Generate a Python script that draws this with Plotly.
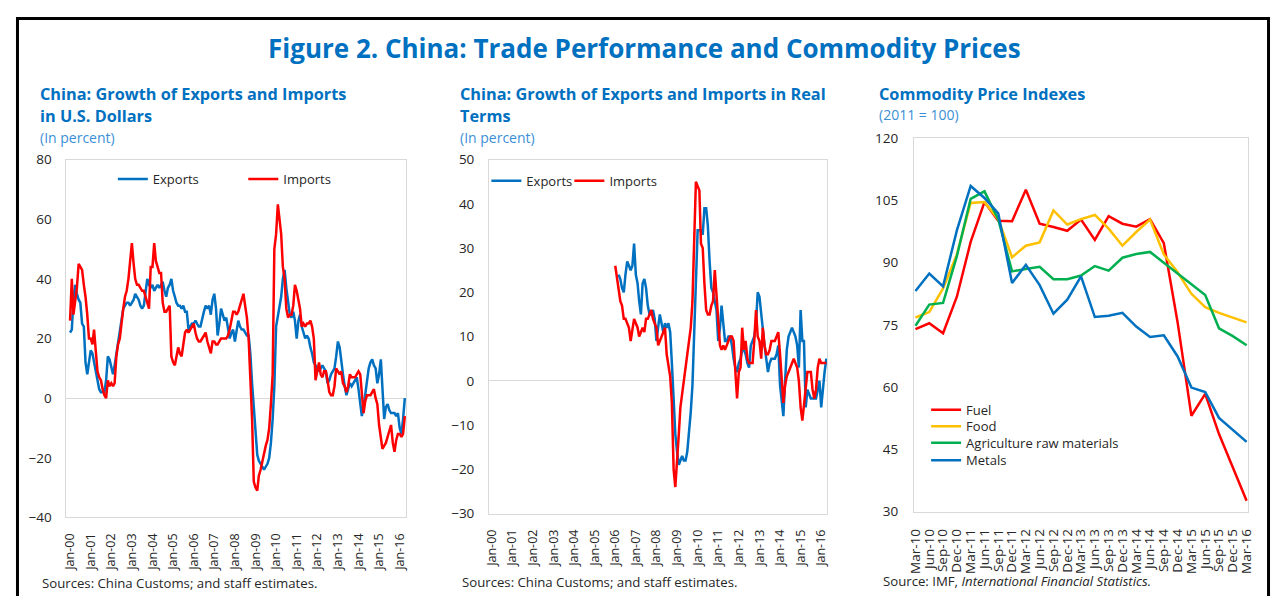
import pandas as pd
import plotly.graph_objects as go

# The page is shown with an 8 px body margin, so the figure is sized to fill the rest.
OFF = 8
W, H = 1285 - 2 * OFF, 613 - 2 * OFF

# ---------------- data ----------------
months = pd.date_range("2000-01-01", periods=196, freq="MS")

usd_exports = [
    22, 23, 33, 38, 35, 33, 32, 25, 24, 12, 8, 12,
    16, 15, 12, 9, 6, 3, 2, 2, 2, 6, 14, 13,
    10, 8, 11, 15, 18, 22, 26, 30, 31, 32, 32, 31,
    32, 33, 35, 34, 33, 31, 30, 31, 35, 40, 38, 37,
    38, 36, 37, 38, 37, 38, 39, 36, 34, 37, 38, 40,
    36, 34, 32, 31, 31, 30, 31, 29, 29, 23, 24, 25,
    25, 26, 25, 24, 24, 27, 29, 31, 30, 31, 28, 33,
    35, 30, 21, 25, 30, 28, 26, 27, 23, 20, 22, 23,
    19, 22, 26, 24, 23, 23, 22, 21, 21, 15, 5, -4,
    -12, -19, -21, -22, -23, -24, -23, -22, -20, -15, -7, 4,
    24, 28, 30, 34, 40, 43, 37, 33, 28, 27, 29, 26,
    20, 26, 28, 24, 22, 20, 21, 20, 17, 15, 12, 11,
    10, 9, 10, 11, 10, 9, 5, 6, 8, 9, 10, 14,
    19, 17, 12, 8, 4, 1, 3, 5, 4, 5, 6, 7,
    3, -2, -6, -3, 1, 6, 10, 12, 13, 11, 10, 5,
    8, 13, 4, -7, -3, -2, -4, -5, -5, -5, -6, -5,
    -10, -12, -7, 0,
]
usd_imports = [
    26, 40, 28, 32, 37, 45, 44, 43, 38, 34, 28, 20,
    20, 18, 23, 14, 9, 7, 6, 3, 1, 0, 6, 4,
    5, 4, 5, 14, 18, 20, 26, 30, 34, 36, 40, 47,
    52, 45, 40, 38, 38, 37, 36, 36, 34, 32, 30, 44,
    44, 52, 46, 44, 42, 42, 32, 29, 29, 30, 31, 14,
    12, 11, 14, 17, 15, 14, 18, 22, 23, 22, 23, 24,
    25, 22, 20, 19, 19, 20, 21, 22, 19, 17, 15, 19,
    19, 18, 18, 19, 20, 20, 20, 20, 21, 23, 26, 29,
    29, 28, 29, 31, 33, 35, 31, 27, 20, 8, -7, -28,
    -30, -31, -26, -24, -21, -19, -16, -14, -10, -2, 8, 50,
    55, 65, 60, 55, 44, 40, 30, 27, 28, 28, 31, 38,
    36, 33, 30, 24, 25, 24, 25, 25, 26, 24, 20, 6,
    9, 12, 8, 7, 9, 9, 6, 2, 1, 1, 4, 10,
    9, 8, 9, 5, 4, 2, 4, 8, 7, 7, 7, 8,
    9, 8, 2, -5, -1, 1, 1, 1, 2, 3, 0, -2,
    -9, -13, -17, -16, -15, -13, -11, -9, -15, -18, -14, -12,
    -12, -13, -12, -6,
]

real_exports_start = 74   # month index of first real-exports observation (Mar-06)
real_exports = [
    24, 23, 21, 20, 24, 27, 26, 25, 26, 31, 24, 22, 18, 15,
    22, 23, 21, 17, 15, 15, 16, 14, 9, 12, 15, 13, 11,
    13, 12, 13, 11, 4, -5, -12, -16, -19, -18, -17, -18, -18,
    -16, -12, -7, -1, 10, 22, 34, 34, 34, 33, 39, 39,
    35, 27, 21, 20, 18, 16, 9, 12, 17, 12, 9, 9,
    10, 10, 8, 5, 3, 2, 4, 5, 7, 7, 6, 4,
    3, 8, 9, 10, 13, 20, 19, 15, 11, 8, 5, 2,
    4, 5, 5, 5, 6, 8, -1, -5, -8, 0, 7, 10,
    11, 12, 11, 10, 8, 3, 16, 9, 9, -6, -2, -3,
    -4, -4, -4, -4, -2, 0, -6, -1, 2, 5,
]
real_imports_start = 72   # Jan-06
real_imports = [
    26, 23, 20, 18, 17, 14, 14, 13, 12, 9, 12, 14,
    13, 12, 10, 11, 12, 11, 14, 14, 15, 16, 14, 13,
    12, 8, 9, 10, 11, 12, 6, 3, 1, -5, -20, -24,
    -19, -12, -6, -3, 0, 2, 5, 8, 12, 18, 33, 45,
    44, 43, 31, 30, 22, 16, 15, 15, 17, 18, 25, 20,
    14, 8, 7, 8, 7, 8, 9, 10, 10, 9, 2, -4,
    2, 3, 12, 7, 9, 5, 4, 4, 4, 9, 16, 10,
    9, 5, 12, 8, 6, 6, 7, 9, 9, 9, 10, 11,
    6, 0, -5, -1, 1, 2, 3, 4, 5, 4, 3, 0,
    -6, -9, -5, -2, 2, 2, 2, -2, -4, -2, 3, 5,
    4, 4, 4, 4,
]

quarters = ["Mar-10", "Jun-10", "Sep-10", "Dec-10", "Mar-11", "Jun-11", "Sep-11", "Dec-11",
            "Mar-12", "Jun-12", "Sep-12", "Dec-12", "Mar-13", "Jun-13", "Sep-13", "Dec-13",
            "Mar-14", "Jun-14", "Sep-14", "Dec-14", "Mar-15", "Jun-15", "Sep-15", "Dec-15",
            "Mar-16"]
fuel = [74.0, 75.4, 73.0, 81.8, 95.0, 104.6, 100.1, 100.0, 107.6, 99.4, 98.6, 97.7, 100.4,
        95.5, 101.2, 99.4, 98.7, 100.5, 94.7, 75.6, 53.1, 58.4, 48.7, 40.5, 32.6]
food = [76.8, 78.1, 83.8, 92.0, 104.4, 104.6, 100.5, 91.3, 94.1, 94.9, 102.6, 99.2, 100.5,
        101.5, 98.2, 94.1, 97.4, 100.4, 92.0, 87.7, 82.5, 79.3, 77.9, 76.8, 75.6]
agri = [74.8, 79.9, 80.3, 91.6, 105.4, 107.2, 100.4, 87.9, 88.5, 89.0, 86.0, 86.0, 86.9,
        89.2, 88.1, 91.2, 92.1, 92.6, 90.0, 87.4, 84.6, 82.2, 74.2, 72.3, 70.1]
metals = [83.2, 87.4, 84.3, 97.8, 108.5, 105.6, 101.9, 85.1, 89.5, 84.6, 77.7, 81.1, 86.7,
          76.9, 77.2, 77.9, 74.6, 72.1, 72.5, 67.4, 59.9, 58.8, 52.6, 49.6, 46.8]

# ---------------- styles ----------------
BLUE = "#0070C0"
RED = "#FF0000"
YELLOW = "#FFC000"
GREEN = "#00B050"
TITLE_BLUE = "#0070C0"
SUB_BLUE = "#3A8FD6"
TXT = "#262626"
FONT = "Open Sans"
LW = 2.5


def px(x):
    """page pixel x -> paper fraction"""
    return (x - OFF) / W


def py(y):
    """page pixel y (from top) -> paper fraction"""
    return 1 - (y - OFF) / H


fig = go.Figure()

# panel 1
fig.add_trace(go.Scatter(x=months, y=usd_exports, name="Exports", mode="lines",
                         line=dict(color=BLUE, width=LW), xaxis="x", yaxis="y", legend="legend"))
fig.add_trace(go.Scatter(x=months, y=usd_imports, name="Imports", mode="lines",
                         line=dict(color=RED, width=LW), xaxis="x", yaxis="y", legend="legend2"))
# panel 2
fig.add_trace(go.Scatter(x=months[real_exports_start:real_exports_start + len(real_exports)],
                         y=real_exports, name="Exports", mode="lines",
                         line=dict(color=BLUE, width=LW), xaxis="x2", yaxis="y2", legend="legend3"))
fig.add_trace(go.Scatter(x=months[real_imports_start:real_imports_start + len(real_imports)],
                         y=real_imports, name="Imports", mode="lines",
                         line=dict(color=RED, width=LW), xaxis="x2", yaxis="y2", legend="legend4"))
# panel 3
for i, (name, vals, col) in enumerate([("Fuel", fuel, RED), ("Food", food, YELLOW),
                                       ("Agriculture raw materials", agri, GREEN),
                                       ("Metals", metals, BLUE)]):
    fig.add_trace(go.Scatter(x=quarters, y=vals, name=name, mode="lines",
                             line=dict(color=col, width=LW), xaxis="x3", yaxis="y3",
                             legend="legend%d" % (5 + i)))

GRID = "#D9D9D9"
common_y = dict(showgrid=False, zeroline=True, zerolinecolor=GRID, zerolinewidth=1,
                showline=True, linecolor=GRID, linewidth=1, mirror=True,
                ticks="outside", ticklen=11, tickcolor="rgba(0,0,0,0)",
                tickfont=dict(family=FONT, size=13.5, color=TXT))
common_x = dict(showgrid=False, zeroline=False, showline=True, linecolor=GRID, linewidth=1,
                mirror=True, ticks="outside", ticklen=10, tickcolor="rgba(0,0,0,0)",
                tickangle=-90, tickfont=dict(family=FONT, size=12.5, color=TXT))


def leg(x, y):
    # x: left edge of legend entry text (41 px after legend box left); y: text centre
    return dict(orientation="v", x=px(x - 41), y=py(y), xanchor="left", yanchor="middle",
                bgcolor="rgba(0,0,0,0)", font=dict(family=FONT, size=13, color=TXT),
                itemwidth=30)


fig.update_layout(
    width=W, height=H, autosize=False,
    margin=dict(l=0, r=0, t=0, b=0),
    paper_bgcolor="white", plot_bgcolor="white",
    font=dict(family=FONT, color=TXT),
    xaxis=dict(domain=[px(59), px(403)], anchor="y", type="date",
               range=["1999-10-28", "2016-04-28"], dtick="M12", tick0="2000-01-01",
               tickformat="%b-%y", **common_x),
    yaxis=dict(domain=[py(524), py(155)], anchor="x", range=[-40, 80], dtick=20, **common_y),
    xaxis2=dict(domain=[px(486.7), px(829)], anchor="y2", type="date",
                range=["1999-11-16", "2016-04-18"], dtick="M12", tick0="2000-01-01",
                tickformat="%b-%y", **common_x),
    yaxis2=dict(domain=[py(520), py(155)], anchor="x2", range=[-30, 50], dtick=10, **common_y),
    xaxis3=dict(domain=[px(916.7), px(1255)], anchor="y3", type="category",
                range=[-0.11, 24.12], tickmode="linear", tick0=0, dtick=1,
                **{**common_x, "ticklen": 11,
                   "tickfont": dict(family=FONT, size=13.5, color=TXT)}),
    yaxis3=dict(domain=[py(518), py(133)], anchor="x3", range=[30, 120], dtick=15,
                **{**common_y, "zeroline": False, "ticklen": 12}),
    legend=leg(147, 175),
    legend2=leg(279, 175),
    legend3=leg(525, 177),
    legend4=leg(609, 177),
    legend5=leg(970, 413),
    legend6=leg(970, 430),
    legend7=leg(970, 447),
    legend8=leg(970, 465),
    showlegend=True,
)

ann = []


def text(x, y, s, size, color, bold=False, anchor="left"):
    ann.append(dict(x=px(x), y=py(y), xref="paper", yref="paper", text=s, showarrow=False,
                    xanchor=anchor, yanchor="middle",
                    font=dict(family=FONT, size=size, color=color,
                              weight="bold" if bold else "normal")))


text(644, 40, "Figure 2. China: Trade Performance and Commodity Prices", 26, TITLE_BLUE, True, "center")

text(30, 87, "China: Growth of Exports and Imports", 16.3, TITLE_BLUE, True)
text(30, 110, "in U.S. Dollars", 16.3, TITLE_BLUE, True)
text(30, 132, "(In percent)", 14, SUB_BLUE)

text(455, 87, "China: Growth of Exports and Imports in Real", 16.3, TITLE_BLUE, True)
text(455, 110, "Terms", 16.3, TITLE_BLUE, True)
text(455, 132, "(In percent)", 14, SUB_BLUE)

text(879, 87, "Commodity Price Indexes", 16.3, TITLE_BLUE, True)
text(879, 109, "(2011 = 100)", 14, SUB_BLUE)

text(32, 592, "Sources: China Customs; and staff estimates.", 13.2, TXT)
text(457, 591, "Sources: China Customs; and staff estimates.", 13.2, TXT)
text(883, 590, "Source: IMF, <i>International Financial Statistics.</i>", 13.2, TXT)

fig.update_layout(annotations=ann)

# outer frame (as close to the page edge as the figure area allows)
fig.update_layout(shapes=[
    dict(type="line", xref="paper", yref="paper", x0=px(9.5), x1=px(9.5), y0=0, y1=1,
         line=dict(color="black", width=3)),
    dict(type="line", xref="paper", yref="paper", x0=px(9.5), x1=px(1275.5), y0=py(9.5), y1=py(9.5),
         line=dict(color="black", width=3)),
    dict(type="line", xref="paper", yref="paper", x0=px(1275.5), x1=px(1275.5), y0=0, y1=1,
         line=dict(color="black", width=3)),
])

fig.write_html("out.html", config={"displayModeBar": False})
